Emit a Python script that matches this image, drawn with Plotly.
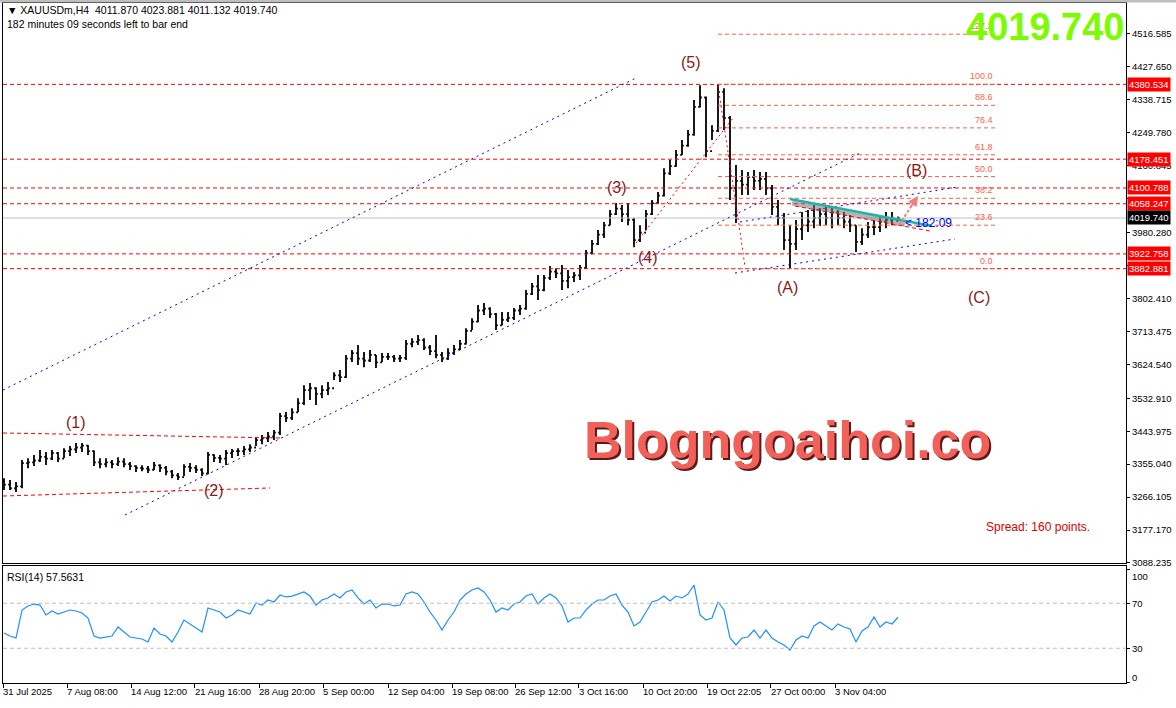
import plotly.graph_objects as go

# ---------------- data ----------------
bar_open = [3310,3300,3290,3295,3358,3360,3365,3375,3370,3385,
            3370,3390,3395,3400,3405,3390,3360,3355,3360,3355,
            3362,3355,3350,3345,3343,3340,3352,3345,3335,3325,
            3320,3348,3345,3340,3330,3380,3372,3370,3385,3390,
            3390,3395,3400,3420,3425,3430,3440,3485,3480,3495,
            3520,3555,3560,3545,3555,3560,3595,3590,3640,3655,
            3640,3635,3650,3630,3645,3645,3640,3642,3680,3685,
            3690,3670,3660,3650,3640,3655,3665,3680,3715,3740,
            3770,3775,3760,3730,3745,3750,3770,3775,3815,3835,
            3825,3858,3875,3870,3850,3860,3865,3885,3925,3950,
            3975,4000,4030,4045,4030,4015,3960,3980,4030,4060,
            4080,4140,4160,4190,4215,4245,4320,4345,4200,4255,
            4360,4290,4100,4120,4110,4130,4120,4125,4100,4050,
            4020,3960,3950,3990,4000,4010,4020,4030,4020,4035,
            4020,4010,4000,3955,3975,3995,3995,4010,4015,4011.87]
bar_high = [3317,3312,3307,3366,3371,3380,3393,3388,3393,3388,
            3398,3404,3412,3412,3407,3392,3371,3371,3366,3374,
            3371,3361,3352,3352,3350,3361,3355,3350,3339,3331,
            3355,3358,3352,3344,3388,3382,3380,3393,3396,3398,
            3404,3409,3428,3434,3442,3447,3493,3496,3506,3533,
            3568,3574,3563,3568,3577,3603,3609,3650,3663,3677,
            3658,3663,3650,3655,3655,3650,3650,3690,3695,3704,
            3695,3677,3704,3658,3668,3677,3690,3722,3749,3785,
            3790,3779,3763,3766,3766,3777,3785,3825,3844,3866,
            3866,3890,3884,3893,3879,3874,3893,3933,3960,3987,
            4009,4041,4060,4055,4060,4020,4000,4041,4068,4090,
            4154,4176,4203,4230,4257,4338,4378,4348,4270,4380.5,
            4370,4295,4163,4149,4144,4149,4144,4144,4109,4068,
            4033,4000,4014,4036,4041,4055,4047,4055,4047,4041,
            4036,4028,4000,3992,4009,4014,4028,4036,4036,4023.88]
bar_low = [3285,3285,3280,3290,3344,3350,3361,3353,3366,3361,
           3372,3377,3385,3388,3380,3350,3344,3347,3344,3350,
           3347,3339,3334,3336,3331,3339,3334,3325,3317,3312,
           3323,3334,3331,3323,3328,3361,3358,3353,3372,3377,
           3380,3388,3404,3409,3415,3420,3434,3469,3474,3496,
           3515,3528,3515,3533,3542,3582,3577,3588,3631,3623,
           3617,3631,3615,3631,3636,3631,3631,3636,3671,3677,
           3663,3650,3641,3631,3636,3650,3663,3678,3717,3738,
           3758,3750,3717,3730,3739,3744,3758,3772,3812,3798,
           3822,3852,3858,3825,3830,3847,3852,3882,3922,3947,
           3966,4000,4028,4009,4000,3941,3955,3987,4028,4058,
           4078,4136,4158,4190,4212,4242,4318,4184,4230,4252,
           4257,4068,4006,4082,4082,4095,4095,4082,4028,4000,
           3933,3883,3933,3960,3982,3992,3998,4000,3992,4000,
           3992,3982,3928,3947,3966,3974,3982,3992,4000,4011.13]
bar_close = [3300,3290,3295,3358,3360,3365,3375,3370,3385,3370,
             3390,3395,3400,3405,3390,3360,3355,3360,3355,3362,
             3355,3350,3345,3343,3340,3352,3345,3335,3325,3320,
             3348,3345,3340,3330,3380,3372,3370,3385,3390,3390,
             3395,3400,3420,3425,3430,3440,3485,3480,3495,3520,
             3555,3560,3545,3555,3560,3595,3590,3640,3655,3640,
             3635,3650,3630,3645,3645,3640,3642,3680,3685,3690,
             3670,3660,3650,3640,3655,3665,3680,3715,3740,3770,
             3775,3760,3730,3745,3750,3770,3775,3815,3835,3825,
             3858,3875,3870,3850,3860,3865,3885,3925,3950,3975,
             4000,4030,4045,4030,4015,3960,3980,4030,4060,4080,
             4140,4160,4190,4215,4245,4320,4345,4200,4255,4360,
             4290,4100,4120,4110,4130,4120,4125,4100,4050,4020,
             3960,3950,3990,4000,4010,4020,4030,4020,4035,4020,
             4010,4000,3955,3975,3995,3995,4010,4015,4020,4019.74]
rsi14 = [43.6,40.9,39.1,64.0,67.6,69.3,68.4,59.6,63.1,60.4,
         62.2,64.0,63.1,61.3,56.9,40.9,39.1,40.0,40.9,48.9,
         44.4,40.0,39.1,38.2,35.6,48.0,42.7,40.9,35.6,44.4,
         55.1,51.6,48.0,44.4,65.8,64.0,62.2,56.9,59.6,64.0,
         62.2,60.4,70.2,68.4,72.9,71.1,77.3,75.6,76.4,78.2,
         80.0,76.4,68.4,72.9,74.7,78.2,74.7,80.0,81.8,74.7,
         69.3,72.9,65.8,69.3,69.3,67.6,68.4,78.2,80.0,78.2,
         71.1,62.2,55.1,46.2,55.1,62.2,72.9,78.2,81.8,83.6,
         80.0,72.9,62.2,65.8,64.0,69.3,71.1,76.4,78.2,69.3,
         74.7,78.2,74.7,67.6,53.3,56.9,56.9,64.0,69.3,72.9,
         72.9,76.4,78.2,68.4,62.2,49.8,53.3,62.2,71.1,72.9,
         76.4,72.0,76.4,74.7,78.2,86.2,59.6,55.1,56.9,71.1,
         64.0,39.1,32.9,39.1,40.0,46.2,39.1,46.2,39.1,35.6,
         32.9,28.4,37.3,40.9,39.1,49.8,53.3,49.8,46.2,51.6,
         48.9,47.1,35.6,45.3,48.9,57.8,48.9,53.3,51.6,57.56]
bar_index = list(range(len(bar_close)))

price_ticks = [4516.585, 4427.650, 4338.715, 4249.780, 4160.845, 4071.910, 3980.280,
               3891.345, 3802.410, 3713.475, 3624.540, 3532.910, 3443.975, 3355.040,
               3266.105, 3177.170, 3088.235]
price_tick_text = ["4516.585", "4427.650", "4338.715", "4249.780", "4160.845", "", "3980.280",
                   "", "3802.410", "3713.475", "3624.540", "3532.910", "3443.975", "3355.040",
                   "3266.105", "3177.170", "3088.235"]
time_labels = ["31 Jul 2025", "7 Aug 08:00", "14 Aug 12:00", "21 Aug 16:00", "28 Aug 20:00",
               "5 Sep 00:00", "12 Sep 04:00", "19 Sep 08:00", "26 Sep 12:00", "3 Oct 16:00",
               "10 Oct 20:00", "19 Oct 22:05", "27 Oct 00:00", "3 Nov 04:00"]
time_label_pos = [-0.1, 10.5, 21.17, 31.83, 42.5, 53.17, 64.0, 74.67, 85.17, 95.83,
                  106.5, 117.17, 127.83, 138.5]

level_prices = [4380.534, 4178.451, 4100.788, 4058.247, 3922.758, 3882.881]
last_price = 4019.740
fib_low, fib_high = 3882.881, 4380.534
fib_ratios = [0.0, 23.6, 38.2, 50.0, 61.8, 76.4, 88.6, 100.0, 127.2]
wave_labels = ["(1)", "(2)", "(3)", "(4)", "(5)", "(A)", "(B)", "(C)"]

# ---------------- geometry helpers (pixel -> axis units) ----------------
L, R, T, B = 3, 50, 3, 25
PW, PH = 1176 - L - R, 708 - T - B


def X(px):
    return (px - 4) / 6.0


def Y(py):
    return 4608.3 - 2.7 * py


def PXp(px):
    return (px - L) / PW


def PYp(py):
    return (708 - B - py) / PH


RED = "#FF0000"
FIB = "#FF6347"
BLUE = "#0000FF"
WAVE = "#8B1A1A"
FONT = "Liberation Sans"

fig = go.Figure()

fig.add_trace(go.Ohlc(
    x=bar_index, open=bar_open, high=bar_high, low=bar_low, close=bar_close,
    increasing=dict(line=dict(color="black", width=1.8)),
    decreasing=dict(line=dict(color="black", width=1.8)),
    tickwidth=0.3, xaxis="x", yaxis="y", showlegend=False, hoverinfo="skip"))

fig.add_trace(go.Scatter(
    x=bar_index, y=rsi14, mode="lines", line=dict(color="#1E90FF", width=1.2),
    xaxis="x2", yaxis="y2", showlegend=False, hoverinfo="skip"))

shapes = []
for p in level_prices:
    shapes.append(dict(type="line", xref="paper", yref="y", x0=0, x1=1, y0=p, y1=p,
                       line=dict(color=RED, width=1, dash="4px,3px")))
shapes.append(dict(type="line", xref="paper", yref="y", x0=0, x1=1, y0=last_price, y1=last_price,
                   line=dict(color="#C0C0C0", width=1)))
for r in fib_ratios:
    p = fib_low + (fib_high - fib_low) * r / 100.0
    shapes.append(dict(type="line", xref="x", yref="y", x0=X(718), x1=X(995), y0=p, y1=p,
                       line=dict(color=FIB, width=1, dash="4px,3px")))


def seg(p0, p1, color, dash, width=1):
    shapes.append(dict(type="line", xref="x", yref="y", x0=X(p0[0]), y0=Y(p0[1]),
                       x1=X(p1[0]), y1=Y(p1[1]), line=dict(color=color, width=width, dash=dash)))


seg((3, 390), (636, 78), BLUE, "2px,4px")
seg((125, 515), (860, 153), BLUE, "2px,4px")
seg((740, 222), (958, 187), BLUE, "2px,4px")
seg((735, 273), (955, 239), BLUE, "2px,4px")
seg((3, 433), (280, 438), RED, "4px,3px")
seg((3, 496), (270, 488), RED, "4px,3px")
seg((718, 86), (738, 218), RED, "2px,3px")
seg((738, 218), (745, 267), RED, "2px,3px")
seg((633, 247), (733, 118), RED, "2px,3px")
seg((792, 203), (905, 224), "rgba(120,120,120,0.55)", "solid", 5)
seg((795, 206), (930, 231), RED, "4px,3px")
seg((790, 199), (932, 226), "#20B2AA", "solid", 2.5)
seg((899, 225), (916, 199), "#F08080", "3px,2px", 2)
for v in (70, 30):
    shapes.append(dict(type="line", xref="paper", yref="y2", x0=0, x1=1, y0=v, y1=v,
                       line=dict(color="#C0C0C0", width=1, dash="4px,3px")))
shapes.append(dict(type="rect", xref="paper", yref="paper", x0=PXp(0), x1=PXp(1176),
                   y0=PYp(2.5), y1=PYp(0), fillcolor="#BFBFBF", line=dict(width=0), layer="above"))

annotations = []


def txt(text, x, y, size, color, xanchor="center", yanchor="middle", bold=False, family=FONT,
        xref="x", yref="y", bg=None, **kw):
    a = dict(text=f"<b>{text}</b>" if bold else text, x=x, y=y, xref=xref, yref=yref,
             showarrow=False, xanchor=xanchor, yanchor=yanchor,
             font=dict(size=size, color=color, family=family))
    if bg:
        a.update(bgcolor=bg, borderpad=1)
    a.update(kw)
    annotations.append(a)


wave_pos = [(76, 422), (214, 490), (617, 187), (648, 257), (691, 62), (787, 287), (916, 170), (979, 297)]
for lab, (px, py) in zip(wave_labels, wave_pos):
    txt(lab, X(px), Y(py), 16, WAVE)

for r in fib_ratios:
    p = fib_low + (fib_high - fib_low) * r / 100.0
    txt(f"{r:.1f}", X(995), p, 9, FIB, xanchor="right", yanchor="bottom", yshift=1)

for p in level_prices:
    txt(f"{p:.3f}", PXp(1127), p, 9.5, "white", xanchor="left", xref="paper", bg=RED)
txt(f"{last_price:.3f}", PXp(1127), last_price, 9.5, "white", xanchor="left", xref="paper", bg="black")

txt(f"{last_price:.3f}", PXp(1045), PYp(27), 38, "#7CFC00", bold=True, xref="paper", yref="paper")

txt("▼ XAUUSDm,H4  4011.870 4023.881 4011.132 4019.740", PXp(5), PYp(10), 10.5, "black",
    xanchor="left", xref="paper", yref="paper")
txt("182 minutes 09 seconds left to bar end", PXp(5), PYp(24), 10.5, "black",
    xanchor="left", xref="paper", yref="paper")
txt("RSI(14) 57.5631", PXp(5), PYp(577), 10.5, "black", xanchor="left", xref="paper", yref="paper")

txt("< 182:09", X(903), Y(223), 12, BLUE, xanchor="left")
annotations.append(dict(x=X(918), y=Y(196), ax=X(910), ay=Y(208), xref="x", yref="y",
                        axref="x", ayref="y", showarrow=True, arrowhead=2, arrowsize=1,
                        arrowwidth=2, arrowcolor="#F08080", text=""))

txt("Blogngoaihoi.co", PXp(789), PYp(442), 52, "#5A1A1A", bold=True, xref="paper", yref="paper")
txt("Blogngoaihoi.co", PXp(787), PYp(440), 52, "#F2605A", bold=True, xref="paper", yref="paper")

txt("Spread: 160 points.", PXp(1038), PYp(527), 12, "#E00000", xref="paper", yref="paper")

txt("100", PXp(1130), PYp(576), 9.5, "black", xanchor="left", xref="paper", yref="paper")
txt("0", PXp(1130), PYp(677), 9.5, "black", xanchor="left", xref="paper", yref="paper")

for lab, xp in zip(time_labels, time_label_pos):
    annotations.append(dict(text=lab, x=xp, y=0, xref="x2", yref="paper", showarrow=False,
                            xanchor="left", yanchor="top", xshift=-2, yshift=-1,
                            font=dict(size=9.5, color="black", family=FONT)))

xrange = [X(L), X(L + PW)]
fig.update_layout(
    width=1176, height=708,
    margin=dict(l=L, r=R, t=T, b=B),
    paper_bgcolor="white", plot_bgcolor="white",
    showlegend=False,
    shapes=shapes, annotations=annotations,
    xaxis=dict(domain=[0, 1], range=xrange, anchor="y", showticklabels=False, showgrid=False,
               zeroline=False, showline=True, linecolor="black", linewidth=1, mirror=True,
               ticks="", rangeslider=dict(visible=False), fixedrange=True),
    yaxis=dict(domain=[(PH - 560) / PH, 1], range=[Y(563), Y(3)], side="right",
               tickvals=price_ticks, ticktext=price_tick_text, ticks="outside", ticklen=3,
               tickcolor="black", tickfont=dict(size=9.5, family=FONT, color="black"),
               showgrid=False, zeroline=False, showline=True, linecolor="black", linewidth=1,
               mirror=True, automargin=False),
    xaxis2=dict(domain=[0, 1], range=xrange, anchor="y2", matches="x", showticklabels=False,
                tickvals=time_label_pos, ticks="outside", ticklen=4, tickcolor="black",
                showgrid=False, zeroline=False, showline=True, linecolor="black", linewidth=1,
                mirror=True, automargin=False),
    yaxis2=dict(domain=[0, (PH - 563) / PH], range=[(682 - 683) / 1.125, (682 - 566) / 1.125],
                side="right", tickvals=[100, 70, 30, 0], ticktext=["", "70", "30", ""],
                ticks="outside", ticklen=3, tickcolor="black",
                tickfont=dict(size=9.5, family=FONT, color="black"),
                showgrid=False, zeroline=False, showline=True, linecolor="black", linewidth=1,
                mirror=True, automargin=False),
)

fig.write_html("out.html", config={"displayModeBar": False},
               post_script="document.body.style.margin='0';document.body.style.overflow='hidden';")
